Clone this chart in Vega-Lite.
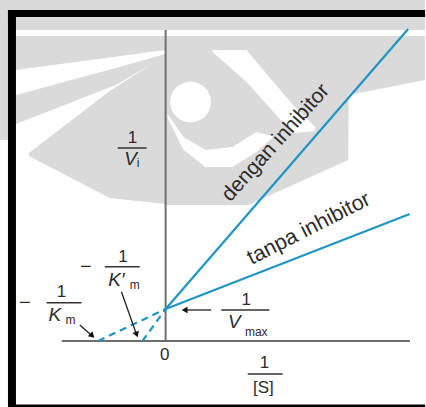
{
  "$schema": "https://vega.github.io/schema/vega-lite/v6.json",
  "width": 426,
  "height": 407,
  "padding": 0,
  "autosize": {"type": "fit", "contains": "padding"},
  "background": "white",
  "config": {"view": {"stroke": null}, "text": {"font": "Liberation Sans", "color": "#2b2b2b"}},
  "datasets": {
    "logoGrey": [
      {"p": "g1", "x": -7.217, "yt": 10.656, "yb": 9.719},
      {"p": "g1", "x": 11.304, "yt": 10.656, "yb": 9.719},
      {"p": "g2", "x": -7.217, "yt": 9.719, "yb": 6.281},
      {"p": "g2", "x": -6.87, "yt": 9.719, "yb": 6.281},
      {"p": "g3", "x": -6.522, "yt": 9.531, "yb": 8.469},
      {"p": "g3", "x": 0, "yt": 9.531, "yb": 9.094},
      {"p": "g4", "x": -6.522, "yt": 7.688, "yb": 6.781},
      {"p": "g4", "x": -2.174, "yt": 8.531, "yb": 8.0},
      {"p": "g4", "x": 0, "yt": 8.969, "yb": 8.906},
      {"p": "g5", "x": -5.957, "yt": 5.875, "yb": 5.781},
      {"p": "g5", "x": -2.435, "yt": 7.8125, "yb": 4.469},
      {"p": "g5", "x": 0, "yt": 8.938, "yb": 4.281},
      {"p": "g6", "x": 0, "yt": 9.531, "yb": 4.25},
      {"p": "g6", "x": 3.609, "yt": 9.531, "yb": 4.25},
      {"p": "g6", "x": 7.957, "yt": 9.531, "yb": 5.656},
      {"p": "g6", "x": 7.978, "yt": 9.531, "yb": 7.688},
      {"p": "g6", "x": 11.304, "yt": 9.531, "yb": 8.156}
    ],
    "logoWhite": [
      {"p": "w1", "x": 2.043, "yt": 9.094, "yb": 9.031},
      {"p": "w1", "x": 3.522, "yt": 9.094, "yb": 8.1},
      {"p": "w1", "x": 5.522, "yt": 7.4, "yb": 6.5},
      {"p": "w1", "x": 6.522, "yt": 6.6875, "yb": 6.5625},
      {"p": "w3", "x": 0.087, "yt": 7.094, "yb": 6.969},
      {"p": "w3", "x": 0.783, "yt": 6.375, "yb": 5.969},
      {"p": "w3", "x": 1.739, "yt": 5.969, "yb": 5.4375},
      {"p": "w3", "x": 2.913, "yt": 6.0625, "yb": 5.4375},
      {"p": "w3", "x": 3.957, "yt": 6.531, "yb": 5.906},
      {"p": "w3", "x": 4.652, "yt": 6.406, "yb": 6.344}
    ],
    "frame": [
      {"x1": -6.87, "x2": 11.31, "y1": 10.125, "y2": 10.344},
      {"x1": -6.87, "x2": -6.522, "y1": -2.0625, "y2": 10.344},
      {"x1": -6.87, "x2": 11.31, "y1": -2.0625, "y2": -1.984}
    ],
    "axes": [
      {"x": -4.53, "x2": 10.65, "y": 0, "y2": 0},
      {"x": 0, "x2": 0, "y": 0, "y2": 9.72}
    ],
    "solid": [
      {"series": "dengan inhibitor", "x": 0, "y": 1},
      {"series": "dengan inhibitor", "x": 10.57, "y": 9.75},
      {"series": "tanpa inhibitor", "x": 0, "y": 1},
      {"series": "tanpa inhibitor", "x": 10.64, "y": 3.97}
    ],
    "dashed": [
      {"series": "dengan inhibitor", "x": -1.01, "y": 0},
      {"series": "dengan inhibitor", "x": 0, "y": 1},
      {"series": "tanpa inhibitor", "x": -2.94, "y": 0},
      {"series": "tanpa inhibitor", "x": 0, "y": 1}
    ],
    "bars": [
      {"x": -2.087, "x2": -0.826, "y": 6.031},
      {"x": -2.652, "x2": -1.13, "y": 2.322},
      {"x": -5.187, "x2": -3.665, "y": 1.197},
      {"x": 2.422, "x2": 4.522, "y": 0.969},
      {"x": 3.578, "x2": 5.1, "y": -1.031}
    ],
    "pointers": [
      {"x": -1.926, "x2": -1.283, "y": 1.541, "y2": 0.234},
      {"x": -3.739, "x2": -3.174, "y": 0.5, "y2": 0.141},
      {"x": 1.987, "x2": 0.87, "y": 0.969, "y2": 0.969}
    ],
    "plain": [
      {"t": "1", "x": -1.448, "y": 6.344},
      {"t": "1", "x": -1.857, "y": 2.634},
      {"t": "1", "x": -4.535, "y": 1.541},
      {"t": "1", "x": 3.509, "y": 1.281},
      {"t": "0", "x": -0.043, "y": -0.4375},
      {"t": "1", "x": 4.304, "y": -0.697},
      {"t": "[S]", "x": 4.261, "y": -1.469}
    ],
    "minus": [
      {"t": "−", "x": -3.478, "y": 2.322},
      {"t": "−", "x": -6.13, "y": 1.178}
    ],
    "italic": [
      {"t": "V", "x": -1.522, "y": 5.6875},
      {"t": "K′", "x": -2.143, "y": 1.906},
      {"t": "K", "x": -4.826, "y": 0.8125},
      {"t": "V", "x": 3.0, "y": 0.603}
    ],
    "subs": [
      {"t": "i", "x": -1.2, "y": 5.5625},
      {"t": "m", "x": -1.35, "y": 1.75},
      {"t": "m", "x": -4.15, "y": 0.656},
      {"t": "max", "x": 3.95, "y": 0.291}
    ],
    "steep": [{"t": "dengan  inhibitor", "x": 4.8, "y": 6.19}],
    "shallow": [{"t": "tanpa inhibitor", "x": 6.25, "y": 3.5}]
  },
  "encoding": {
    "x": {"field": "x", "type": "quantitative", "scale": {"domain": [-7.2174, 11.3043], "nice": false, "zero": false}, "axis": null},
    "y": {"field": "y", "type": "quantitative", "scale": {"domain": [-2.0625, 10.65625], "nice": false, "zero": false}, "axis": null}
  },
  "layer": [
    {
      "data": {"name": "logoGrey"},
      "mark": {"type": "area", "color": "#dadada", "opacity": 1},
      "encoding": {"y": {"field": "yt", "type": "quantitative"}, "y2": {"field": "yb"}, "detail": {"field": "p"}}
    },
    {
      "data": {"name": "logoWhite"},
      "mark": {"type": "area", "color": "#ffffff", "opacity": 1},
      "encoding": {"y": {"field": "yt", "type": "quantitative"}, "y2": {"field": "yb"}, "detail": {"field": "p"}}
    },
    {
      "data": {"values": [{"x": 1.087, "y": 7.469}]},
      "mark": {"type": "point", "shape": "circle", "filled": true, "color": "#ffffff", "opacity": 1, "size": 1660},
      "encoding": {}
    },
    {
      "data": {"name": "frame"},
      "mark": {"type": "rect", "color": "#000000"},
      "encoding": {"x": {"field": "x1", "type": "quantitative"}, "x2": {"field": "x2"}, "y": {"field": "y1", "type": "quantitative"}, "y2": {"field": "y2"}}
    },
    {
      "data": {"name": "axes"},
      "mark": {"type": "rule", "color": "#6f6f6f", "strokeWidth": 2},
      "encoding": {"x2": {"field": "x2"}, "y2": {"field": "y2"}}
    },
    {
      "data": {"name": "dashed"},
      "mark": {"type": "line", "color": "#1f95c5", "strokeWidth": 2.2, "strokeDash": [7, 5]},
      "encoding": {"detail": {"field": "series"}}
    },
    {
      "data": {"name": "solid"},
      "mark": {"type": "line", "color": "#1f95c5", "strokeWidth": 2.2},
      "encoding": {"detail": {"field": "series"}}
    },
    {
      "data": {"name": "bars"},
      "mark": {"type": "rule", "color": "#333333", "strokeWidth": 1.5},
      "encoding": {"x2": {"field": "x2"}}
    },
    {
      "data": {"name": "pointers"},
      "mark": {"type": "rule", "color": "#222222", "strokeWidth": 1.3},
      "encoding": {"x2": {"field": "x2"}, "y2": {"field": "y2"}}
    },
    {
      "data": {"values": [{"x": -1.261, "y": 0.203}]},
      "mark": {"type": "point", "shape": "triangle-up", "filled": true, "color": "#111111", "opacity": 1, "size": 45, "angle": 160},
      "encoding": {}
    },
    {
      "data": {"values": [{"x": -3.196, "y": 0.1625}]},
      "mark": {"type": "point", "shape": "triangle-up", "filled": true, "color": "#111111", "opacity": 1, "size": 45, "angle": 132},
      "encoding": {}
    },
    {
      "data": {"values": [{"x": 0.826, "y": 0.969}]},
      "mark": {"type": "point", "shape": "triangle-up", "filled": true, "color": "#111111", "opacity": 1, "size": 45, "angle": 270},
      "encoding": {}
    },
    {
      "data": {"name": "plain"},
      "mark": {"type": "text", "fontSize": 17, "align": "center", "baseline": "middle"},
      "encoding": {"text": {"field": "t"}}
    },
    {
      "data": {"name": "minus"},
      "mark": {"type": "text", "fontSize": 20, "align": "center", "baseline": "middle"},
      "encoding": {"text": {"field": "t"}}
    },
    {
      "data": {"name": "italic"},
      "mark": {"type": "text", "fontSize": 19, "fontStyle": "italic", "align": "center", "baseline": "middle"},
      "encoding": {"text": {"field": "t"}}
    },
    {
      "data": {"name": "subs"},
      "mark": {"type": "text", "fontSize": 12, "align": "center", "baseline": "middle"},
      "encoding": {"text": {"field": "t"}}
    },
    {
      "data": {"name": "steep"},
      "mark": {"type": "text", "fontSize": 21, "angle": -48, "align": "center", "baseline": "middle"},
      "encoding": {"text": {"field": "t"}}
    },
    {
      "data": {"name": "shallow"},
      "mark": {"type": "text", "fontSize": 21.5, "angle": -27, "align": "center", "baseline": "middle"},
      "encoding": {"text": {"field": "t"}}
    }
  ]
}
